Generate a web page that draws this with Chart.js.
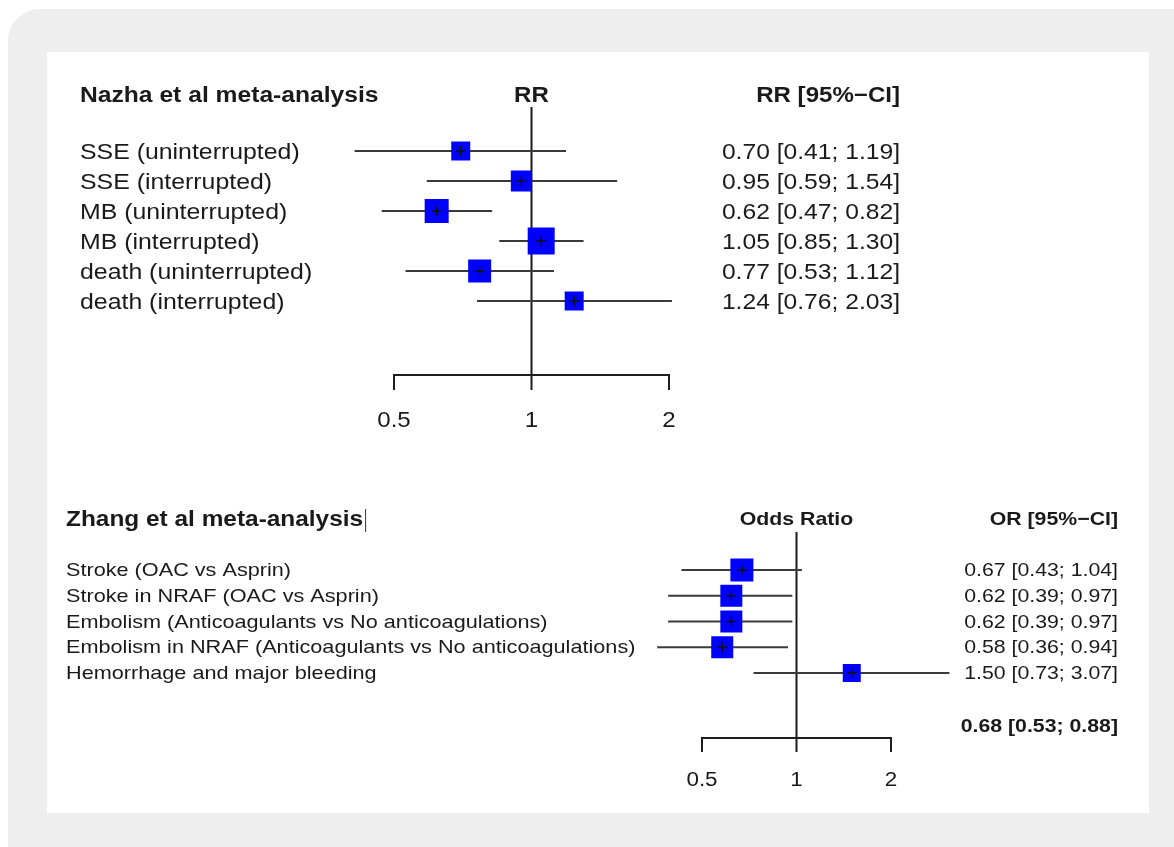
<!DOCTYPE html>
<html>
<head>
<meta charset="utf-8">
<script src="https://cdn.jsdelivr.net/npm/chart.js@4"></script>
<style>
  html, body { margin: 0; padding: 0; background: #fff; }
  body { width: 1174px; height: 847px; position: relative; overflow: hidden; }
  #frame { position: absolute; left: 8px; top: 9px; width: 1200px; height: 880px; background: #eeeeee; border-radius: 32px; }
  #panel { position: absolute; left: 47px; top: 52px; width: 1102px; height: 761px; background: #fff; }
  canvas { position: absolute; left: 0; top: 0; }
</style>
</head>
<body>
<div id="frame"></div>
<div id="panel"></div>
<canvas id="nazha" width="1174" height="847"></canvas>
<canvas id="zhang" width="1174" height="847"></canvas>
<script>
// Nazha et al meta-analysis (RR)
const nazhaLabels = ["SSE (uninterrupted)", "SSE (interrupted)", "MB (uninterrupted)", "MB (interrupted)", "death (uninterrupted)", "death (interrupted)"];
const nazhaRR = [0.70, 0.95, 0.62, 1.05, 0.77, 1.24];
const nazhaLo = [0.41, 0.59, 0.47, 0.85, 0.53, 0.76];
const nazhaHi = [1.19, 1.54, 0.82, 1.30, 1.12, 2.03];
const nazhaTicks = [0.5, 1, 2];

// Zhang et al meta-analysis (OR)
const zhangLabels = ["Stroke (OAC vs Asprin)", "Stroke in NRAF (OAC vs Asprin)", "Embolism (Anticoagulants vs No anticoagulations)", "Embolism in NRAF (Anticoagulants vs No anticoagulations)", "Hemorrhage and major bleeding"];
const zhangOR = [0.67, 0.62, 0.62, 0.58, 1.50];
const zhangLo = [0.43, 0.39, 0.39, 0.36, 0.73];
const zhangHi = [1.04, 0.97, 0.97, 0.94, 3.07];
const zhangPooled = [0.68, 0.53, 0.88];
const zhangTicks = [0.5, 1, 2];

// box sides in px (study weight)
const nazhaBox = [19, 21, 24, 27, 23, 19];
const zhangBox = [23, 22, 22, 22, 18];

const fmt = (v, lo, hi) => v.toFixed(2) + " [" + lo.toFixed(2) + "; " + hi.toFixed(2) + "]";
const SX = 1.12;
const INK = "#1a1a1a";

function txt(ctx, s, x, y, font, align, sx) {
  ctx.save();
  ctx.font = font;
  ctx.fillStyle = INK;
  ctx.textBaseline = "middle";
  ctx.textAlign = align;
  ctx.translate(x, y);
  ctx.scale(sx || SX, 1);
  ctx.fillText(s, 0, 0);
  ctx.restore();
}

const forestText = {
  id: "forestText",
  afterDraw(chart, args, o) {
    const ctx = chart.ctx, xs = chart.scales.x, ys = chart.scales.y, area = chart.chartArea;
    ctx.save();
    ctx.strokeStyle = "#1e1e1e";
    ctx.lineWidth = 2;
    ctx.beginPath();
    ctx.moveTo(xs.getPixelForValue(o.ticks[0]), area.bottom);
    ctx.lineTo(xs.getPixelForValue(o.ticks[o.ticks.length - 1]), area.bottom);
    o.ticks.forEach(t => {
      const px = xs.getPixelForValue(t);
      ctx.moveTo(px, area.bottom - 1);
      ctx.lineTo(px, area.bottom + o.tickLen);
    });
    ctx.stroke();
    ctx.restore();
    o.ticks.forEach(t => txt(ctx, String(t), xs.getPixelForValue(t), area.bottom + o.tickLabelDy, o.tickFont, "center"));
    // headers
    txt(ctx, o.title, o.labelX, o.headY, o.titleFont, "left");
    txt(ctx, o.axisTitle, xs.getPixelForValue(1), o.headY, o.headFont, "center");
    txt(ctx, o.valueTitle, o.valueX, o.headY, o.headFont, "right");
    // rows
    o.labels.forEach((s, i) => {
      const py = ys.getPixelForValue(i + 1) + o.textDy;
      txt(ctx, s, o.labelX, py, o.labelFont, "left", o.labelSx);
      txt(ctx, fmt(o.est[i], o.lo[i], o.hi[i]), o.valueX, py, o.valueFont, "right");
    });
    if (o.pooled) {
      txt(ctx, fmt(o.pooled[0], o.pooled[1], o.pooled[2]), o.valueX, ys.getPixelForValue(o.labels.length + 2) + o.textDy + 1, o.pooledFont, "right");
    }
    if (o.caret) {
      ctx.save();
      ctx.font = o.titleFont;
      const w = ctx.measureText(o.title).width * SX;
      ctx.strokeStyle = "#333";
      ctx.lineWidth = 1;
      ctx.beginPath();
      ctx.moveTo(o.labelX + w + 2.5, o.headY - 11);
      ctx.lineTo(o.labelX + w + 2.5, o.headY + 12);
      ctx.stroke();
      ctx.restore();
    }
  }
};

function forest(id, est, lo, hi, box, yMin, yMax, padding, text) {
  const datasets = [];
  datasets.push({
    data: [{ x: 1, y: yMin }, { x: 1, y: yMax }],
    showLine: true, borderColor: "#1a1a1a", borderWidth: 2, pointRadius: 0, clip: false, order: 5
  });
  est.forEach((v, i) => {
    datasets.push({
      data: [{ x: lo[i], y: i + 1 }, { x: hi[i], y: i + 1 }],
      showLine: true, borderColor: "#3a3a3a", borderWidth: 2, pointRadius: 0, clip: false, order: 4
    });
  });
  datasets.push({
    data: est.map((v, i) => ({ x: v, y: i + 1 })),
    pointStyle: "rect", pointRadius: box.map(b => b / Math.SQRT2), backgroundColor: "#0000ff",
    borderWidth: 0, clip: false, order: 2
  });
  datasets.push({
    data: est.map((v, i) => ({ x: v, y: i + 1 })),
    pointStyle: "cross", pointRadius: 5, borderColor: "#111", borderWidth: 1.5, clip: false, order: 1
  });
  return new Chart(document.getElementById(id), {
    type: "scatter",
    data: { datasets },
    options: {
      responsive: false,
      animation: false,
      events: [],
      layout: { padding },
      scales: {
        x: { type: "logarithmic", min: text.ticks[0], max: text.ticks[text.ticks.length - 1], display: false },
        y: { type: "linear", min: yMin, max: yMax, reverse: true, display: false }
      },
      plugins: { legend: { display: false }, tooltip: { enabled: false }, forestText: text }
    },
    plugins: [forestText]
  });
}

forest("nazha", nazhaRR, nazhaLo, nazhaHi, nazhaBox, -0.467, 8.467,
  { left: 394, right: 505, top: 107, bottom: 472 },
  {
    ticks: nazhaTicks, tickLen: 15, tickLabelDy: 46, tickFont: "21.5px 'Liberation Sans', Arial, sans-serif",
    title: "Nazha et al meta-analysis", axisTitle: "RR", valueTitle: "RR [95%\u2212CI]",
    titleFont: "bold 22px 'Liberation Sans', Arial, sans-serif", headFont: "bold 21.5px 'Liberation Sans', Arial, sans-serif",
    labelFont: "22px 'Liberation Sans', Arial, sans-serif", valueFont: "22px 'Liberation Sans', Arial, sans-serif",
    labelX: 80, valueX: 900, headY: 96, textDy: 2, labelSx: 1.13,
    labels: nazhaLabels, est: nazhaRR, lo: nazhaLo, hi: nazhaHi
  });

forest("zhang", zhangOR, zhangLo, zhangHi, zhangBox, -0.476, 7.524,
  { left: 702, right: 283, top: 532, bottom: 109 },
  {
    ticks: zhangTicks, tickLen: 14, tickLabelDy: 42, tickFont: "20px 'Liberation Sans', Arial, sans-serif",
    title: "Zhang et al meta-analysis", axisTitle: "Odds Ratio", valueTitle: "OR [95%\u2212CI]",
    titleFont: "bold 21.8px 'Liberation Sans', Arial, sans-serif", headFont: "bold 19px 'Liberation Sans', Arial, sans-serif",
    labelFont: "19px 'Liberation Sans', Arial, sans-serif", valueFont: "19px 'Liberation Sans', Arial, sans-serif",
    pooledFont: "bold 19px 'Liberation Sans', Arial, sans-serif",
    labelX: 66, valueX: 1118, headY: 520, textDy: 1, labelSx: 1.14, caret: true,
    labels: zhangLabels, est: zhangOR, lo: zhangLo, hi: zhangHi, pooled: zhangPooled
  });
</script>
</body>
</html>
